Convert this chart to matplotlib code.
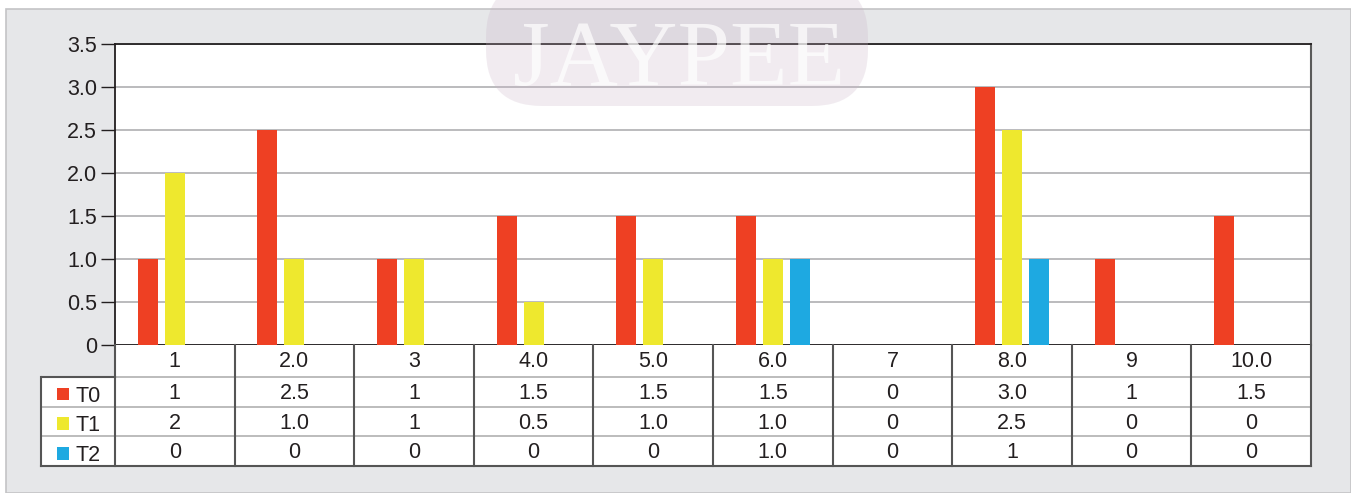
import numpy as np
import matplotlib
matplotlib.use('Agg')
import matplotlib.pyplot as plt
from matplotlib.patches import Rectangle, FancyBboxPatch
from matplotlib.transforms import IdentityTransform

plt.rcParams['font.family'] = ['Liberation Sans', 'DejaVu Sans']

# data
categories = ["1", "2.0", "3", "4.0", "5.0", "6.0", "7", "8.0", "9", "10.0"]
series_names = ["T0", "T1", "T2"]
t0_labels = ["1", "2.5", "1", "1.5", "1.5", "1.5", "0", "3.0", "1", "1.5"]
t1_labels = ["2", "1.0", "1", "0.5", "1.0", "1.0", "0", "2.5", "0", "0"]
t2_labels = ["0", "0", "0", "0", "0", "1.0", "0", "1", "0", "0"]
colors = ["#ee4023", "#eee82e", "#1ea9e1"]
yticks = [0, 0.5, 1.0, 1.5, 2.0, 2.5, 3.0, 3.5]
ytick_labels = ["0", "0.5", "1.0", "1.5", "2.0", "2.5", "3.0", "3.5"]

rows = [t0_labels, t1_labels, t2_labels]
values = [[float(v) for v in r] for r in rows]

W, H = 1351, 493
fig = plt.figure(figsize=(W / 100, H / 100), dpi=100)
fig.patch.set_facecolor('white')

def fx(px): return px / W
def fy(py): return 1 - py / H

TXT = '#231f20'

# grey panel
fig.patches.append(Rectangle((fx(6), 0), fx(1351 - 6), fy(9), transform=fig.transFigure,
                             facecolor='#e6e7e9', edgecolor='#c4c4c6', lw=1.2, zorder=-5))

L, R, T, B = 115, 1311, 44, 345
ax = fig.add_axes([fx(L), fy(B), fx(R - L), (B - T) / H])
ax.set_facecolor('white')
n = len(categories)
x = np.arange(n) + 0.5
bw, off = 0.167, 0.226
for k in range(3):
    ax.bar(x + (k - 1) * off, values[k], width=bw, color=colors[k], zorder=3)
ax.set_xlim(0, n)
ax.set_ylim(0, 3.5)
ax.set_yticks(yticks)
ax.set_yticklabels(ytick_labels, fontsize=15.5, color=TXT)
ax.set_xticks([])
ax.yaxis.grid(True, color='#b5b5b7', lw=1.3, zorder=0)
ax.set_axisbelow(True)
ax.tick_params(axis='y', length=10, width=1, color=TXT, pad=3)
for s in ['top', 'left', 'bottom']:
    ax.spines[s].set_color(TXT)
    ax.spines[s].set_linewidth(1.3)
ax.spines['right'].set_color('#5a5a5a')
ax.spines['right'].set_linewidth(1.5)

# table below
TL, TB = 41, 466
tax = fig.add_axes([fx(TL), fy(TB), fx(R - TL), (TB - B) / H])
tax.set_xlim(-(L - TL) / ((R - L) / n), n)
row_h = [1.1, 1.0, 1.0, 1.0]
edges = np.concatenate([[0], np.cumsum(row_h)])
tax.set_ylim(edges[-1], 0)
tax.axis('off')
lx0 = tax.get_xlim()[0]
tax.add_patch(Rectangle((0, 0), n, edges[-1], facecolor='white', edgecolor='none', zorder=0))
tax.add_patch(Rectangle((lx0, edges[1]), -lx0, edges[-1] - edges[1], facecolor='white',
                        edgecolor='none', zorder=0))
dark, light = '#555555', '#b0b0b0'
for e in edges[1:-1]:
    tax.plot([0, n], [e, e], color=light, lw=1.2)
for e in edges[2:-1]:
    tax.plot([lx0, 0], [e, e], color=light, lw=1.2)
tax.plot([lx0, 0], [edges[1], edges[1]], color=dark, lw=1.5)
tax.plot([lx0, n], [edges[-1], edges[-1]], color=dark, lw=1.5, clip_on=False)
tax.plot([lx0, lx0], [edges[1], edges[-1]], color=dark, lw=1.5, clip_on=False)
for i in range(n + 1):
    tax.plot([i, i], [0, edges[-1]], color=dark, lw=1.5, clip_on=False)

fs = 15.5
for i, c in enumerate(categories):
    tax.text(i + 0.5, (edges[0] + edges[1]) / 2 + 0.02, c, ha='center', va='center',
             fontsize=fs, color=TXT)
for r, lab in enumerate(rows):
    yc = (edges[r + 1] + edges[r + 2]) / 2 + 0.05
    for i, v in enumerate(lab):
        tax.text(i + 0.5, yc, v, ha='center', va='center', fontsize=fs, color=TXT)
    tax.add_patch(Rectangle((lx0 + 0.135, yc - 0.2), 0.1, 0.43, facecolor=colors[r],
                            edgecolor='none', clip_on=False))
    tax.text(lx0 + 0.285, yc + 0.08, series_names[r], ha='left', va='center', fontsize=fs,
             color=TXT)

# watermark
fig.patches.append(FancyBboxPatch((486, H - 106), 382, 125,
                                  boxstyle="round,pad=0,rounding_size=56",
                                  transform=IdentityTransform(), facecolor='#c9b3c6',
                                  edgecolor='none', alpha=0.25, zorder=10))
fig.text(fx(679), fy(63), "JAYPEE", ha='center', va='center', fontsize=68,
         family='Liberation Serif', color='white', alpha=0.7, zorder=11)

fig.savefig('out.png', dpi=100)
